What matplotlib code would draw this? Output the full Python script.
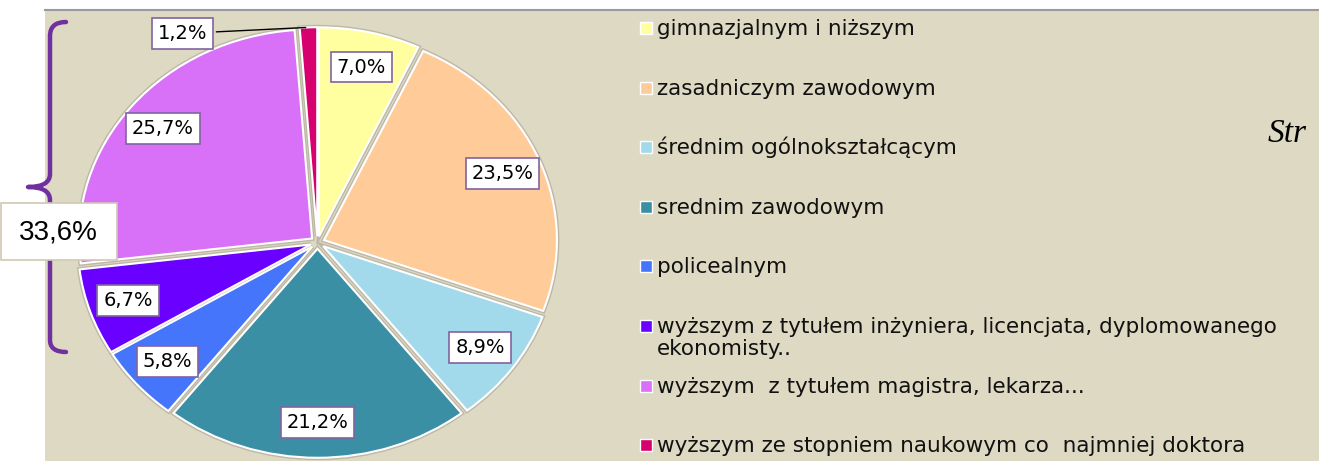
import numpy as np
import matplotlib.pyplot as plt
from matplotlib.patches import Rectangle, PathPatch
from matplotlib.path import Path

W, H = 1319, 461

# data: share of people by education level (%)
labels = ['gimnazjalnym i niższym',
          'zasadniczym zawodowym',
          'średnim ogólnokształcącym',
          'srednim zawodowym',
          'policealnym',
          'wyższym z tytułem inżyniera, licencjata, dyplomowanego\nekonomisty..',
          'wyższym  z tytułem magistra, lekarza...',
          'wyższym ze stopniem naukowym co  najmniej doktora']
values = [7.0, 23.5, 8.9, 21.2, 5.8, 6.7, 25.7, 1.2]
colors = ['#FFFFA0', '#FFCC99', '#A2DAEC', '#3A8FA5',
          '#4575FA', '#6A00FF', '#D870F8', '#D6006E']
higher = values[5:]  # the bracketed group (higher education)


def fmt(v):
    return f'{v:.1f}'.replace('.', ',') + '%'


fig = plt.figure(figsize=(W / 100, H / 100), dpi=100)
fig.patch.set_facecolor('white')

# background (slide area), pixel coords
bg = fig.add_axes([0, 0, 1, 1])
bg.set_xlim(0, W)
bg.set_ylim(H, 0)
bg.axis('off')
bg.add_patch(Rectangle((45, 10), W - 45, H - 10, fc='#DDD9C3', ec='none'))
bg.plot([45, W], [10, 10], color='#9A9A9A', lw=1.5)

# pie axes, slightly stretched horizontally like the original
rx, ry = 233, 209
cx, cy = 317.5, 242.5
lim = 1.15
ax = fig.add_axes([(cx - lim * rx) / W, (H - cy - lim * ry) / H,
                   2 * lim * rx / W, 2 * lim * ry / H])
# faint grey rim under the white edges (the original has a soft outline)
ax.pie(values, colors=colors, startangle=90, counterclock=False,
       explode=[0.03] * len(values),
       wedgeprops=dict(edgecolor='#BDB8A6', linewidth=3.5))
wedges, _ = ax.pie(values, colors=colors, startangle=90, counterclock=False,
                   explode=[0.03] * len(values),
                   wedgeprops=dict(edgecolor='white', linewidth=1.5))
ax.set_xlim(-lim, lim)
ax.set_ylim(-lim, lim)
ax.set_aspect('auto')
ax.axis('off')

box = dict(boxstyle='square,pad=0.3', fc='white', ec='#8064A2', lw=1.2)
for w, v in zip(wedges, values):
    th = np.deg2rad((w.theta1 + w.theta2) / 2)
    x0, y0 = w.center
    if v < 2:
        # small slice -> label outside with a leader line
        ax.annotate(fmt(v), xy=(x0 + np.cos(th), y0 + np.sin(th)),
                    xytext=(-0.58, 1.0), fontsize=14, ha='center', va='center',
                    bbox=box, arrowprops=dict(arrowstyle='-', color='black', lw=1))
    else:
        ax.text(x0 + 0.83 * np.cos(th), y0 + 0.83 * np.sin(th), fmt(v),
                fontsize=14, ha='center', va='center', bbox=box)

# overlay: bracket, total box, legend, title fragment
ov = fig.add_axes([0, 0, 1, 1])
ov.set_xlim(0, W)
ov.set_ylim(H, 0)
ov.axis('off')

verts = [(66, 22), (50, 22), (50, 36), (50, 174), (50, 187), (28, 187),
         (50, 187), (50, 200), (50, 340), (50, 352), (66, 352)]
codes = [Path.MOVETO, Path.CURVE3, Path.CURVE3, Path.LINETO, Path.CURVE3, Path.CURVE3,
         Path.CURVE3, Path.CURVE3, Path.LINETO, Path.CURVE3, Path.CURVE3]
ov.add_patch(PathPatch(Path(verts, codes), fc='none', ec='#7030A0', lw=3.2,
                       capstyle='round', joinstyle='round'))

ov.add_patch(Rectangle((1, 203), 116, 57, fc='white', ec='#CFCAB4', lw=1.2))
ov.text(58, 232, fmt(sum(higher)), fontsize=20, family='Liberation Sans',
        ha='center', va='center')

for i, (lab, c) in enumerate(zip(labels, colors)):
    y = 28 + i * 59.6
    ov.add_patch(Rectangle((640, y - 6), 12, 12, fc=c, ec='white', lw=1))
    for k, line in enumerate(lab.split('\n')):
        ov.text(657, y + 7 + k * 22, line, fontsize=15.5, family='DejaVu Sans',
                va='baseline', ha='left', color='#111111')

ov.text(1268, 142, 'Str', fontsize=24, family='Liberation Serif',
        style='italic', va='baseline', ha='left')

fig.savefig('out.png', dpi=100, facecolor='white')
